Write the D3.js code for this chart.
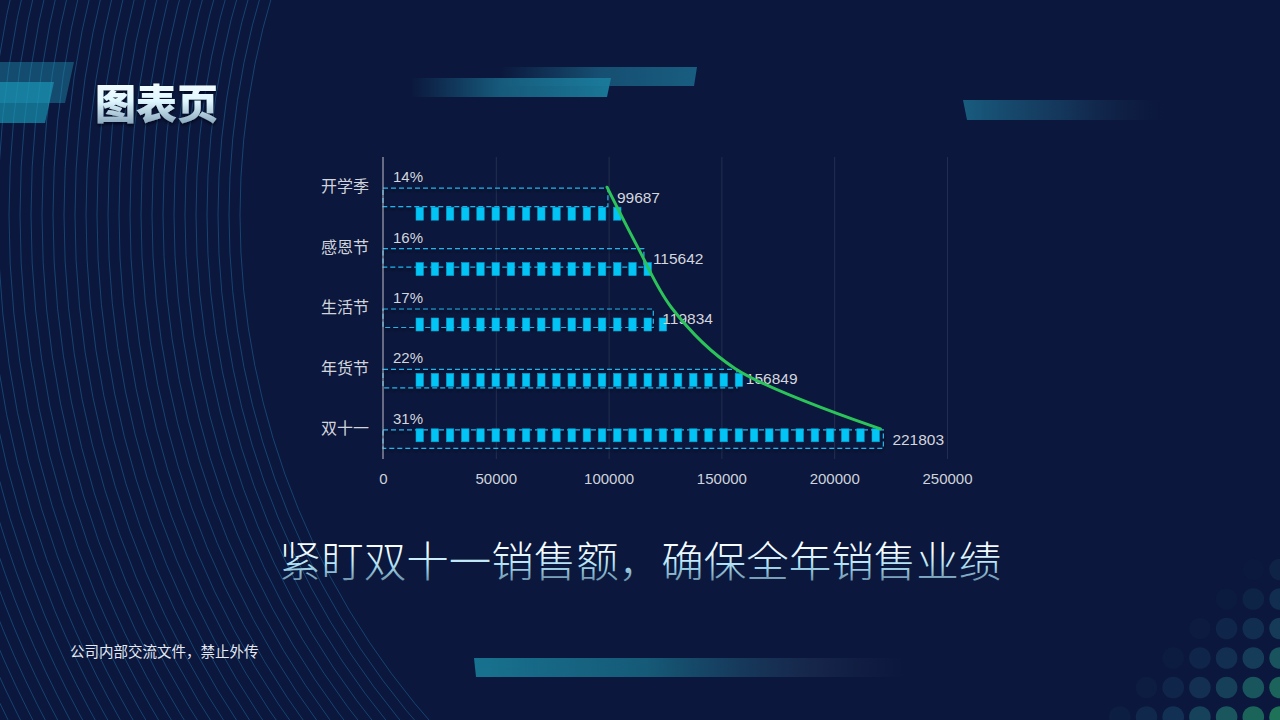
<!DOCTYPE html>
<html>
<head>
<meta charset="utf-8">
<script src="https://cdn.jsdelivr.net/npm/d3@7"></script>
<style>
  html, body { margin: 0; padding: 0; background: #0b173c; overflow: hidden; }
  svg { display: block; }
  text { font-family: "Liberation Sans", "Noto Sans CJK SC", sans-serif; }
  .cjk { font-family: "Noto Sans CJK SC", sans-serif; }
</style>
</head>
<body>
<div id="chart"></div>
<script>
const width = 1280;
const height = 720;

// chart data
const categories = ["开学季", "感恩节", "生活节", "年货节", "双十一"];
const sales      = [99687, 115642, 119834, 156849, 221803];
const shares     = [14, 16, 17, 22, 31];
const trend      = [99300, 113000, 128000, 156000, 220500];
const xTicks     = [0, 50000, 100000, 150000, 200000, 250000];

const title    = "图表页";
const subTitle = "紧盯双十一销售额，确保全年销售业绩";
const footer   = "公司内部交流文件，禁止外传";

const rows = categories.map((c, i) => ({
   name  : c,
   value : sales[i],
   share : shares[i],
   trend : trend[i]
}));

const plot = { left: 383, right: 947, top: 157, bottom: 459 };

const svg = d3.select("#chart").append("svg")
   .attr("width", width)
   .attr("height", height);

const defs = svg.append("defs");

function hGrad(id, stops) {
   const g = defs.append("linearGradient").attr("id", id)
      .attr("x1", "0%").attr("x2", "100%").attr("y1", "0%").attr("y2", "0%");
   stops.forEach(s => g.append("stop")
      .attr("offset", s[0]).attr("stop-color", s[1]).attr("stop-opacity", s[2]));
}
function vGrad(id, stops) {
   const g = defs.append("linearGradient").attr("id", id)
      .attr("x1", "0%").attr("x2", "0%").attr("y1", "0%").attr("y2", "100%");
   stops.forEach(s => g.append("stop")
      .attr("offset", s[0]).attr("stop-color", s[1]).attr("stop-opacity", s[2]));
}

hGrad("fadeLeft",  [["0%", "#1a7090", 0], ["45%", "#1a7090", 0.75], ["100%", "#1a7c9c", 0.95]]);
hGrad("fadeLeft2", [["0%", "#1a6688", 0], ["50%", "#1a6688", 0.7], ["100%", "#1a6a8c", 0.85]]);
hGrad("fadeRight", [["0%", "#1a6486", 0.9], ["50%", "#1a4a6e", 0.6], ["100%", "#1a2c50", 0]]);
hGrad("fadeRightB",[["0%", "#17728f", 1], ["40%", "#176682", 0.85], ["80%", "#1d2d52", 0.6], ["100%", "#1d2a4c", 0]]);
vGrad("titleFill", [["0%", "#ffffff", 1], ["50%", "#dff7ff", 1], ["100%", "#6f8ea8", 1]]);
vGrad("subFill",   [["0%", "#ffffff", 1], ["40%", "#f2fcff", 1], ["62%", "#a8def2", 1], ["100%", "#4f6a88", 1]]);

const shadow = defs.append("filter").attr("id", "shadow")
   .attr("x", "-10%").attr("y", "-50%").attr("width", "120%").attr("height", "200%");
shadow.append("feDropShadow").attr("dx", 0).attr("dy", 2).attr("stdDeviation", 1.5)
   .attr("flood-color", "#000010").attr("flood-opacity", 0.7);

// ---- background decoration ----
svg.append("rect").attr("width", width).attr("height", height).attr("fill", "#0b173c");

// concentric arcs on the left
const arcs = svg.append("g").attr("fill", "none").attr("stroke", "#1d6394")
   .attr("stroke-opacity", 0.6).attr("stroke-width", 1);
for (let r = 770; r <= 1140; r += 11) {
   arcs.append("circle").attr("cx", 1010).attr("cy", 215).attr("r", r);
}

// top-left slabs
svg.append("polygon").attr("points", "0,62 74,62 65,103 0,103")
   .attr("fill", "#1f8fb0").attr("fill-opacity", 0.45);
svg.append("polygon").attr("points", "0,82 54,82 45,123 0,123")
   .attr("fill", "#1a9ab8").attr("fill-opacity", 0.65);

// gradient streaks
svg.append("polygon").attr("points", "500,67 697,67 694,86 500,86").attr("fill", "url(#fadeLeft2)");
svg.append("polygon").attr("points", "410,78 611,78 607,97 410,97").attr("fill", "url(#fadeLeft)");
svg.append("polygon").attr("points", "963,100 1165,100 1165,120 967,120").attr("fill", "url(#fadeRight)");
svg.append("polygon").attr("points", "474,658 905,658 905,677 476,677").attr("fill", "url(#fadeRightB)");

// dot grid bottom-right
const dotColor = d3.scaleLinear().domain([1900, 2000]).range(["#173f60", "#1d7458"]).clamp(true);
const dotAlpha = d3.scaleLinear().domain([1815, 1930]).range([0, 1]).clamp(true);
const dots = svg.append("g");
for (let j = 0; j < 6; j++) {
   for (let k = 0; k < 8; k++) {
      const cx = 1280 - k * 26.7;
      const cy = 717 - j * 29.5;
      const s = cx + cy;
      if (dotAlpha(s) <= 0) continue;
      dots.append("circle").attr("cx", cx).attr("cy", cy).attr("r", 10.8)
         .attr("fill", dotColor(s)).attr("fill-opacity", dotAlpha(s));
   }
}

// ---- titles ----
svg.append("text")
   .attr("class", "cjk")
   .attr("x", 95).attr("y", 101)
   .attr("dominant-baseline", "central")
   .style("font-size", "41px").style("font-weight", "900")
   .attr("fill", "url(#titleFill)")
   .attr("filter", "url(#shadow)")
   .text(title);

svg.append("text")
   .attr("class", "cjk")
   .attr("x", 640).attr("y", 558)
   .attr("text-anchor", "middle")
   .attr("dominant-baseline", "central")
   .style("font-size", "42.5px").style("font-weight", "300")
   .attr("fill", "url(#subFill)")
   .text(subTitle);

svg.append("text")
   .attr("class", "cjk")
   .attr("x", 70).attr("y", 650)
   .attr("dominant-baseline", "central")
   .style("font-size", "14.5px")
   .attr("fill", "#e4e9f3")
   .text(footer);

// ---- chart ----
const x = d3.scaleLinear()
   .domain([0, 250000])
   .range([plot.left, plot.right]);

const y = d3.scaleBand()
   .domain(categories)
   .range([plot.top, plot.bottom]);

// pictorial symbols sit on their own category axis
const y2 = d3.scaleBand()
   .domain(categories)
   .range([186, 463]);

const bw = y.bandwidth();

// grid
svg.append("g")
   .attr("transform", `translate(0, ${plot.bottom})`)
   .call(d3.axisBottom(x).tickValues(xTicks.slice(1)).tickSize(-(plot.bottom - plot.top)).tickFormat(""))
   .call(g => g.select(".domain").remove())
   .call(g => g.selectAll(".tick line").attr("stroke", "#ffffff").attr("stroke-opacity", 0.1));

// x labels
svg.append("g")
   .attr("transform", `translate(0, ${plot.bottom})`)
   .call(d3.axisBottom(x).tickValues(xTicks).tickSize(0).tickPadding(14).tickFormat(d3.format("d")))
   .call(g => g.select(".domain").remove())
   .call(g => g.selectAll("text").attr("fill", "#cfd3dc").style("font-size", "15px")
      .style("font-family", "'Liberation Sans', sans-serif"));

// dashed frames
svg.selectAll("rect.frame")
   .data(rows)
   .enter()
   .append("rect")
   .attr("class", "frame")
   .attr("x", x(0))
   .attr("y", d => y(d.name) + bw / 2 + 1)
   .attr("width", d => x(d.value) - x(0))
   .attr("height", 18.5)
   .attr("fill", "none")
   .attr("stroke", "#25b2ea")
   .attr("stroke-width", 1.2)
   .attr("stroke-dasharray", "5,3")
   .attr("filter", "url(#shadow)");

// y axis
svg.append("g")
   .attr("transform", `translate(${plot.left}, 0)`)
   .call(d3.axisLeft(y).tickSize(0).tickPadding(14))
   .call(g => g.select(".domain").attr("stroke", "#c4bfca").attr("d", `M0,${plot.top}V${plot.bottom}`))
   .call(g => g.selectAll("text").attr("fill", "#d2d4dc").style("font-size", "16px")
      .style("font-family", "'Noto Sans CJK SC', sans-serif"));

// repeated symbols, one per percent point
const symStart = x(0) + 33;
const symStep = 15.2;
svg.selectAll("g.sym")
   .data(rows)
   .enter()
   .append("g")
   .attr("class", "sym")
   .attr("transform", d => `translate(0, ${y2(d.name) + y2.bandwidth() / 2 - 6.5})`)
   .selectAll("rect")
   .data(d => d3.range(d.share))
   .enter()
   .append("rect")
   .attr("x", k => symStart + k * symStep)
   .attr("y", 0)
   .attr("width", 7.4)
   .attr("height", 13)
   .attr("fill", "#02c5f5")
   .attr("stroke", "#079fd0")
   .attr("stroke-width", 0.6);

// share labels
svg.selectAll("text.share")
   .data(rows)
   .enter()
   .append("text")
   .attr("class", "share")
   .attr("x", x(0) + 10)
   .attr("y", d => y(d.name) + bw / 2 - 10.5)
   .attr("dominant-baseline", "central")
   .attr("fill", "#d4d6de")
   .style("font-size", "15px")
   .text(d => d.share + "%");

// value labels
svg.selectAll("text.valueLabel")
   .data(rows)
   .enter()
   .append("text")
   .attr("class", "valueLabel")
   .attr("x", d => x(d.value) + 9)
   .attr("y", d => y(d.name) + bw / 2 + 10.5)
   .attr("dominant-baseline", "central")
   .attr("fill", "#d4d6de")
   .style("font-size", "15.5px")
   .text(d => d.value);

// trend curve
const line = d3.line()
   .x(d => x(d.trend))
   .y(d => y(d.name) + bw / 2)
   .curve(d3.curveCatmullRom);

svg.append("path")
   .datum(rows)
   .attr("d", line)
   .attr("fill", "none")
   .attr("stroke", "#2bc35a")
   .attr("stroke-width", 3)
   .attr("stroke-linecap", "round");
</script>
</body>
</html>
